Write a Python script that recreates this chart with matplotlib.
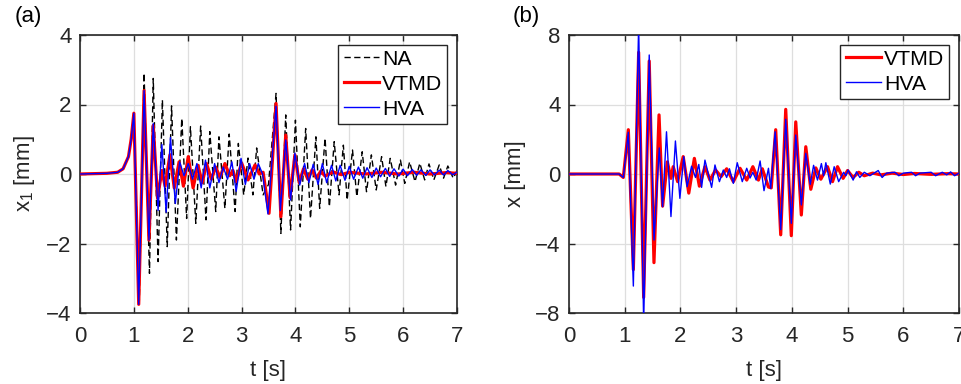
import matplotlib
matplotlib.use("Agg")
import matplotlib.pyplot as plt

plt.rcParams['font.family'] = ['Liberation Sans', 'DejaVu Sans']
plt.rcParams['mathtext.fontset'] = 'custom'
plt.rcParams['mathtext.rm'] = 'Liberation Sans'
plt.rcParams['mathtext.it'] = 'Liberation Sans'

# ---------------- Panel (a): x1 [mm] ----------------
t_a_na = [0, 0.5, 0.7, 0.8, 0.9, 0.95, 1.0, 1.1, 1.19, 1.29, 1.36, 1.45, 1.53, 1.62, 1.70,
          1.79, 1.89, 1.98, 2.05, 2.15, 2.24, 2.34, 2.41, 2.52, 2.58, 2.69, 2.77, 2.88, 2.94,
          3.04, 3.12, 3.21, 3.28, 3.40, 3.50, 3.64, 3.73, 3.82, 3.91, 4.0, 4.09, 4.19, 4.28,
          4.38, 4.45, 4.55, 4.63, 4.72, 4.81, 4.89, 4.96, 5.06, 5.14, 5.24, 5.32, 5.41, 5.5,
          5.6, 5.68, 5.76, 5.86, 5.95, 6.03, 6.12, 6.22, 6.31, 6.4, 6.48, 6.57, 6.67, 6.75,
          6.83, 6.93, 7.0]
x1_na = [0, 0.02, 0.05, 0.15, 0.5, 1.0, 1.75, -3.75, 2.9, -2.86, 2.75, -2.52, 2.13, -2.09, 1.96,
         -1.9, 1.6, -1.28, 1.36, -1.42, 1.38, -1.32, 1.22, -1.08, 1.07, -0.99, 1.15, -1.08, 0.88,
         -0.6, 0.46, -0.6, 0.75, -0.6, -0.3, 2.32, -1.71, 1.7, -1.61, 1.55, -1.52, 1.31, -1.28,
         1.07, -0.99, 1.03, -0.94, 0.93, -0.6, 0.83, -0.75, 0.69, -0.65, 0.64, -0.51, 0.55, -0.46,
         0.5, -0.36, 0.45, -0.32, 0.4, -0.27, 0.35, -0.22, 0.31, -0.17, 0.29, -0.17, 0.26, -0.12,
         0.23, -0.12, 0.1]

t_a_vtmd = [0, 0.5, 0.7, 0.8, 0.9, 0.95, 1.0, 1.09, 1.19, 1.28, 1.36, 1.44, 1.52, 1.58,
            1.67, 1.75, 1.84, 1.92, 2.01, 2.1, 2.19, 2.27, 2.35, 2.44, 2.52, 2.6, 2.69, 2.78,
            2.84, 2.9, 3.0, 3.12, 3.25, 3.33, 3.4, 3.51, 3.64, 3.73, 3.82, 3.9, 3.99, 4.07,
            4.15, 4.23, 4.31, 4.39, 4.47, 4.55, 4.7, 4.85, 5.0, 5.3, 5.6, 5.9, 6.2, 6.5, 6.8, 7.0]
x1_vtmd = [0, 0.02, 0.05, 0.15, 0.5, 1.0, 1.75, -3.75, 2.4, -1.9, 1.4, -0.7, 0.1, -0.35,
           0.55, -0.4, 0.35, -0.35, 0.5, -0.4, 0.25, -0.25, 0.3, -0.15, 0.2, -0.1, 0.3, -0.05,
           0.1, -0.22, 0.32, -0.17, 0.26, 0.0, 0.05, -1.13, 2.03, -1.23, 1.12, -0.68, 0.55, -0.25,
           0.15, -0.15, 0.12, -0.12, 0.08, -0.06, 0.06, -0.02, 0.05, 0.0, 0.05, 0.0, 0.05, 0.0, 0.04, 0.02]

t_a_hva = [0, 0.5, 0.7, 0.8, 0.9, 0.95, 1.0, 1.09, 1.19, 1.28, 1.36, 1.45, 1.52, 1.60,
           1.68, 1.77, 1.85, 1.93, 2.01, 2.09, 2.17, 2.25, 2.33, 2.41, 2.5, 2.58, 2.66, 2.74,
           2.82, 2.9, 2.99, 3.07, 3.15, 3.23, 3.31, 3.39, 3.49, 3.64, 3.72, 3.82, 3.91, 3.99,
           4.08, 4.17, 4.25, 4.33, 4.42, 4.5, 4.58, 4.67, 4.75, 4.83, 4.92, 5.0, 5.08, 5.17,
           5.25, 5.33, 5.42, 5.5, 5.58, 5.67, 5.75, 5.83, 5.92, 6.0, 6.08, 6.17, 6.25, 6.33,
           6.42, 6.5, 6.58, 6.67, 6.75, 6.83, 6.92, 7.0]
x1_hva = [0, 0.02, 0.05, 0.15, 0.5, 1.0, 1.75, -3.75, 2.4, -1.9, 1.45, -1.05, 0.85, -1.1,
          1.05, -0.85, 0.35, -0.05, 0.3, -0.15, 0.3, -0.4, 0.4, -0.4, 0.3, -0.25, 0.2, -0.15,
          0.35, -0.5, 0.45, -0.3, 0.3, -0.15, 0.3, 0.0, -1.15, 1.95, -1.05, 0.98, -0.75, 0.6,
          -0.32, 0.3, -0.25, 0.28, -0.3, 0.3, -0.25, 0.25, -0.2, 0.25, -0.18, 0.22, -0.15, 0.2,
          -0.12, 0.18, -0.1, 0.17, -0.08, 0.16, -0.07, 0.15, -0.06, 0.14, -0.05, 0.13, -0.04, 0.12,
          -0.04, 0.12, -0.03, 0.11, -0.03, 0.1, -0.02, 0.05]

# ---------------- Panel (b): x [mm] ----------------
t_b_vtmd = [0, 0.9, 0.975, 1.065, 1.155, 1.25, 1.34, 1.44, 1.525, 1.616, 1.68, 1.765, 1.83,
            1.87, 1.95, 2.05, 2.15, 2.25, 2.34, 2.44, 2.53, 2.63, 2.73, 2.83, 2.95, 3.07, 3.19,
            3.3, 3.4, 3.47, 3.58, 3.63, 3.71, 3.8, 3.89, 3.99, 4.07, 4.17, 4.25, 4.34, 4.43,
            4.52, 4.64, 4.73, 4.82, 4.92, 5.0, 5.1, 5.2, 5.3, 5.45, 5.6, 5.8, 6.0, 6.2, 6.5,
            6.8, 7.0]
x_b_vtmd = [0, 0, -0.2, 2.55, -5.5, 7.0, -7.1, 6.5, -5.1, 3.4, -1.85, 0.7, -0.25,
            0.42, -0.44, 1.0, -1.1, 0.9, -0.7, 0.42, -0.35, 0.23, -0.15, 0.3, -0.44, 0.33, -0.35,
            0.42, -0.35, 0.3, -0.75, -0.8, 2.55, -3.5, 3.72, -3.55, 3.0, -2.36, 1.57, -0.88, 0.35,
            -0.3, 0.42, -0.44, 0.42, -0.25, 0.2, -0.2, 0.1, -0.1, 0.05, -0.05, 0.05, -0.03, 0.03, -0.02,
            0.02, 0.0]

t_b_hva = [0, 0.9, 0.975, 1.065, 1.155, 1.25, 1.34, 1.44, 1.526, 1.62, 1.68, 1.75, 1.83,
           1.91, 1.99, 2.06, 2.12, 2.2, 2.27, 2.33, 2.38, 2.44, 2.56, 2.62, 2.7, 2.77, 2.83,
           2.88, 2.95, 3.02, 3.11, 3.19, 3.25, 3.3, 3.36, 3.43, 3.5, 3.58, 3.62, 3.7, 3.8,
           3.89, 3.99, 4.07, 4.17, 4.25, 4.33, 4.39, 4.46, 4.53, 4.57, 4.61, 4.69, 4.76, 4.84,
           4.93, 4.97, 5.01, 5.1, 5.16, 5.22, 5.3, 5.4, 5.55, 5.62, 5.7, 5.85, 5.92, 6.0,
           6.15, 6.22, 6.3, 6.5, 6.58, 6.7, 6.78, 6.85, 6.92, 7.0]
x_b_hva = [0, 0, -0.2, 2.4, -6.45, 8.6, -8.6, 6.85, -3.8, 1.5, -1.88, 2.43, -2.45,
           1.9, -1.4, 1.0, -0.73, 0.45, -0.2, 0.55, -0.77, 0.8, -0.77, 0.52, -0.44, 0.23, -0.2,
           0.3, -0.54, 0.65, -0.44, 0.33, -0.23, 0.1, -0.35, 0.75, -0.96, 0.33, -0.83, 2.43, -3.2,
           3.15, -2.84, 2.24, -1.78, 1.19, -0.6, 0.5, -0.35, 0.6, -0.1, 0.65, -0.58, 0.42, -0.44,
           0.1, -0.1, 0.23, -0.35, 0.13, -0.2, 0.1, -0.1, 0.2, -0.2, 0.05, 0.1, -0.1, 0.05,
           0.1, -0.1, 0.05, 0.1, -0.1, 0.1, -0.05, 0.12, -0.1, 0.05]

x_ticks = [0, 1, 2, 3, 4, 5, 6, 7]
ya_ticks = [-4, -2, 0, 2, 4]
yb_ticks = [-8, -4, 0, 4, 8]

FS = 16
LFS = 15.3
SPINE = '#262626'

fig = plt.figure(figsize=(9.62, 3.84), dpi=100)
axa = fig.add_axes([80/962, 1-313/384, 377/962, 278/384])
axb = fig.add_axes([569/962, 1-313/384, 390/962, 278/384])


def style(ax, yticks, ylabel):
    ax.set_xlim(0, 7)
    ax.set_ylim(yticks[0], yticks[-1])
    ax.set_xticks(x_ticks)
    ax.set_yticks(yticks)
    ax.grid(True, color='#dedede', linewidth=0.9)
    ax.set_axisbelow(True)
    ax.tick_params(direction='in', length=4.5, width=1.0, top=True, right=True,
                   labelsize=FS, colors=SPINE)
    ax.tick_params(axis='x', pad=9)
    ax.tick_params(axis='y', pad=6)
    for s in ax.spines.values():
        s.set_color(SPINE)
        s.set_linewidth(1.2)
    ax.set_xlabel('t [s]', fontsize=FS, color=SPINE, labelpad=10)
    ax.set_ylabel(ylabel, fontsize=FS, color=SPINE, labelpad=7)


axa.plot(t_a_na, x1_na, color='black', lw=1.0, ls=(0, (4.5, 2.5)), label='NA', zorder=2)
axa.plot(t_a_vtmd, x1_vtmd, color='#ff0000', lw=2.3, label='VTMD', zorder=3)
axa.plot(t_a_hva, x1_hva, color='#0000ff', lw=1.0, label='HVA', zorder=4)
style(axa, ya_ticks, r'x$_1$ [mm]')

axb.plot(t_b_vtmd, x_b_vtmd, color='#ff0000', lw=2.3, label='VTMD', zorder=3)
axb.plot(t_b_hva, x_b_hva, color='#0000ff', lw=1.0, label='HVA', zorder=4)
style(axb, yb_ticks, 'x [mm]')

for ax in (axa, axb):
    leg = ax.legend(loc='upper right', fontsize=LFS, fancybox=False, framealpha=1,
                    edgecolor=SPINE, borderaxespad=0.45, handlelength=1.65,
                    handletextpad=0.15, labelspacing=0.28, borderpad=0.25)
    leg.get_frame().set_linewidth(1.0)

fig.text(15/962, 1-6/384, '(a)', fontsize=FS, va='top', ha='left', color='black')
fig.text(513/962, 1-6/384, '(b)', fontsize=FS, va='top', ha='left', color='black')

fig.savefig('out.png', dpi=100)
